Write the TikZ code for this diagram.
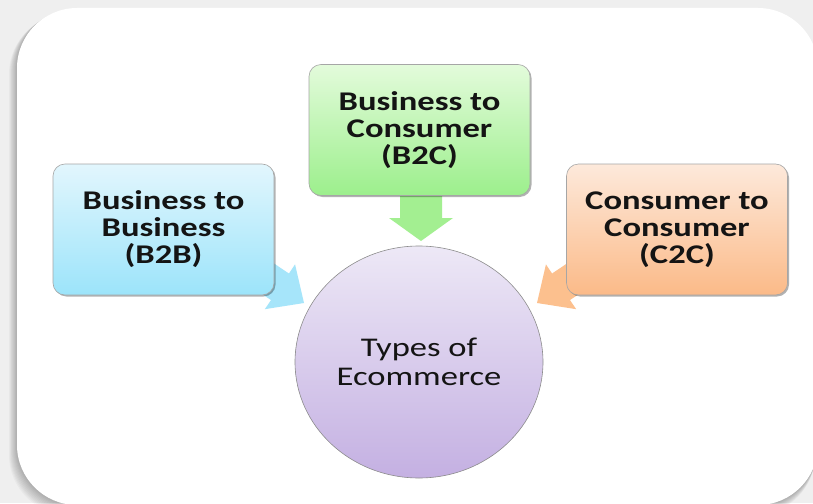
\documentclass[tikz,border=0pt]{standalone}
\usepackage{fontspec}
\newfontfamily\boxfont{Carlito}[FakeStretch=1.28]
\usetikzlibrary{shapes.geometric,shadows}
\definecolor{bg}{RGB}{239,239,239}
\definecolor{bbtop}{RGB}{226,246,253}
\definecolor{bbbot}{RGB}{156,228,250}
\definecolor{bctop}{RGB}{227,251,219}
\definecolor{bcbot}{RGB}{156,239,140}
\definecolor{cctop}{RGB}{253,233,219}
\definecolor{ccbot}{RGB}{251,186,136}
\definecolor{hubtop}{RGB}{237,232,246}
\definecolor{hubbot}{RGB}{196,176,226}
\definecolor{arrblue}{RGB}{166,229,250}
\definecolor{arrgreen}{RGB}{163,239,145}
\definecolor{arrorange}{RGB}{252,192,142}
\definecolor{inktext}{RGB}{20,20,20}
\newcommand{\panelpath}[4]{% left top right bottom, radius 60
  (#1,#2+60) .. controls (#1,#2+27) and (#1+27,#2) .. (#1+60,#2)
  -- (#3-60,#2) .. controls (#3-27,#2) and (#3,#2+27) .. (#3,#2+60)
  -- (#3,#4-60) .. controls (#3,#4-27) and (#3-27,#4) .. (#3-60,#4)
  -- (#1+60,#4) .. controls (#1+27,#4) and (#1,#4-27) .. (#1,#4-60) -- cycle}
\begin{document}
\begin{tikzpicture}[x=1pt,y=-1pt,
  typebox/.style={draw=black!35, line width=0.6pt, rounded corners=12pt,
    minimum width=221pt, minimum height=131pt, align=center, inner sep=0pt,
    text=inktext, font=\boxfont\bfseries\fontsize{27}{27}\selectfont,
    drop shadow={shadow xshift=1.5pt, shadow yshift=-1.5pt, opacity=0.3, fill=black}},
  hub/.style={ellipse, draw=black!45, line width=0.6pt, minimum width=248pt,
    minimum height=232pt, inner sep=0pt, align=center,
    top color=hubtop, bottom color=hubbot, text=inktext,
    font=\boxfont\fontsize{27}{28.5}\selectfont}
]
\useasboundingbox (0,0) rectangle (813,503);
\fill[bg] (0,0) rectangle (813,503);
% panel shadow
\foreach \i in {1,...,10}{
  \pgfmathsetmacro{\pl}{17-\i*0.8}
  \pgfmathsetmacro{\pt}{8+\i*0.6}
  \pgfmathsetmacro{\pr}{818-\i*0.3}
  \pgfmathsetmacro{\pb}{505+\i}
  \fill[black, opacity=0.028] \panelpath{\pl}{\pt}{\pr}{\pb};
}
\fill[white] \panelpath{17}{8}{818}{505};

% arrow tips
\coordinate (gtip) at (421,241);
\coordinate (btip) at (304,303);
\coordinate (otip) at (537,303);

\begin{scope}[shift={(btip)}, rotate=-34]
  \fill[arrblue] (0,0) -- (-29,27) -- (-29,16) -- (-95,16) -- (-95,-16) -- (-29,-16) -- (-29,-27) -- cycle;
\end{scope}
\begin{scope}[shift={(otip)}, rotate=-146]
  \fill[arrorange] (0,0) -- (-29,27) -- (-29,16) -- (-95,16) -- (-95,-16) -- (-29,-16) -- (-29,-27) -- cycle;
\end{scope}
\begin{scope}[shift={(gtip)}, rotate=-90]
  \fill[arrgreen] (0,0) -- (-23,32) -- (-23,21) -- (-50,21) -- (-50,-21) -- (-23,-21) -- (-23,-32) -- cycle;
\end{scope}

\node[typebox, top color=bbtop, bottom color=bbbot] (b2b) at (163.5,229.5) {Business to\\Business\\(B2B)};
\node[typebox, top color=bctop, bottom color=bcbot] (b2c) at (419.5,130) {Business to\\Consumer\\(B2C)};
\node[typebox, top color=cctop, bottom color=ccbot] (c2c) at (677,229.5) {Consumer to\\Consumer\\(C2C)};
\node[hub] (hubnode) at (419,362) {Types of\\Ecommerce};
\end{tikzpicture}
\end{document}
